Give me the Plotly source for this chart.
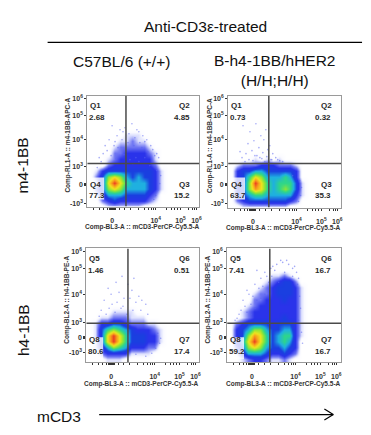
import plotly.graph_objects as go

W, H = 371, 435

# density levels (0 = empty, 10 = hottest), rows top to bottom
Z_TL = [
 [0]*19, [0]*19, [0]*19, [0]*19, [0]*19, [0]*19,
 [0,0,0,0,0,0,1,1,1,0,0,0,0,0,0,0,0,0,0],
 [0,0,0,0,0,1,1,2,1,1,0,0,0,0,0,0,0,0,0],
 [0,0,0,0,1,2,2,2,2,2,1,0,0,0,0,0,0,0,0],
 [0,0,0,0,2,2,3,3,3,3,2,1,0,0,0,0,0,0,0],
 [0,0,0,1,2,3,3,3,3,3,3,1,0,0,0,0,0,0,0],
 [0,0,0,2,3,3,3,3,3,3,3,2,0,0,0,0,0,0,0],
 [0,1,3,4,4,4,4,4,4,4,4,3,1,0,0,0,0,0,0],
 [0,2,4,7,8,7,5,4,5,4,4,3,1,0,0,0,0,0,0],
 [0,1,4,8,10,8,6,5,5,5,4,3,1,0,0,0,0,0,0],
 [0,2,4,7,8,7,5,5,5,5,4,3,1,0,0,0,0,0,0],
 [0,1,3,5,5,5,4,4,4,4,3,2,0,0,0,0,0,0,0],
 [0,0,2,3,4,3,3,3,3,3,2,1,0,0,0,0,0,0,0],
 [0,0,0,1,1,1,1,1,1,0,0,0,0,0,0,0,0,0,0],
]
Z_TR = [
 [0]*19, [0]*19, [0]*19, [0]*19, [0]*19, [0]*19, [0]*19, [0]*19, [0]*19, [0]*19,
 [0,0,0,0,1,0,1,0,1,0,0,0,0,0,0,0,0,0,0],
 [0,1,2,2,2,3,3,3,2,2,2,1,0,0,0,0,0,0,0],
 [0,3,4,4,5,5,4,4,4,4,4,3,0,0,0,0,0,0,0],
 [0,3,4,6,8,7,5,5,5,6,5,3,0,0,0,0,0,0,0],
 [0,3,4,7,10,8,6,5,6,6,6,4,1,0,0,0,0,0,0],
 [0,3,4,7,9,8,6,5,6,7,6,4,1,0,0,0,0,0,0],
 [0,3,4,5,6,6,5,5,5,5,5,3,1,0,0,0,0,0,0],
 [0,2,3,4,4,4,4,4,4,4,3,2,0,0,0,0,0,0,0],
 [0,0,1,1,1,1,1,1,1,1,0,0,0,0,0,0,0,0,0],
]
Z_BL = [
 [0]*19, [0]*19, [0]*19, [0]*19, [0]*19, [0]*19, [0]*19, [0]*19, [0]*19, [0]*19,
 [0,0,0,0,1,1,1,1,0,0,0,0,0,0,0,0,0,0,0],
 [0,0,1,1,2,2,2,1,1,1,0,0,0,0,0,0,0,0,0],
 [0,1,3,3,4,4,3,2,2,2,1,1,0,0,0,0,0,0,0],
 [0,1,4,6,7,6,5,4,3,3,3,2,1,0,0,0,0,0,0],
 [0,1,4,8,10,8,6,4,4,4,3,3,1,0,0,0,0,0,0],
 [0,1,4,8,10,8,6,4,4,4,3,3,1,0,0,0,0,0,0],
 [0,1,3,5,7,6,5,3,3,3,2,2,0,0,0,0,0,0,0],
 [0,0,2,3,3,3,3,1,1,1,1,0,0,0,0,0,0,0,0],
 [0,0,0,1,1,1,0,0,0,0,0,0,0,0,0,0,0,0,0],
]
Z_BR = [
 [0]*19, [0]*19, [0]*19, [0]*19,
 [0,0,0,0,0,0,0,1,1,2,1,0,0,0,0,0,0,0,0],
 [0,0,0,0,0,0,1,2,3,4,4,2,0,0,0,0,0,0,0],
 [0,0,0,0,0,1,2,3,4,4,4,3,1,0,0,0,0,0,0],
 [0,0,0,0,1,2,2,3,4,4,4,3,1,0,0,0,0,0,0],
 [0,0,0,0,2,2,3,3,3,4,3,3,1,0,0,0,0,0,0],
 [0,0,0,1,2,3,3,3,3,3,3,3,1,0,0,0,0,0,0],
 [0,0,1,2,3,3,3,3,3,3,3,3,1,0,0,0,0,0,0],
 [0,0,1,2,3,3,3,3,3,4,3,3,1,0,0,0,0,0,0],
 [0,2,3,4,4,4,4,3,4,4,4,3,1,0,0,0,0,0,0],
 [0,3,4,5,7,7,5,4,4,5,5,3,1,0,0,0,0,0,0],
 [0,3,4,7,9,8,6,4,5,6,6,3,1,0,0,0,0,0,0],
 [0,3,5,8,10,8,6,4,5,6,5,3,0,0,0,0,0,0,0],
 [0,2,4,7,8,7,5,4,4,5,4,3,0,0,0,0,0,0,0],
 [0,1,3,5,5,5,4,3,3,4,3,2,0,0,0,0,0,0,0],
 [0,0,1,2,3,3,2,1,1,2,1,0,0,0,0,0,0,0,0],
]
BIN_CENTRES = [3, 9, 15, 21, 27, 33, 39, 45, 51, 57, 63, 69, 75, 81, 87, 93, 99, 105, 111]

# scattered stray events
STRAY_X_TL = [25,33,38,45,52,30,42,48,56,60,22,28,36,50,58,64,18,20,66,70,16,24,68,72,63,70,74,12,14,10,35,41,47,53,31,27,39,44,55,61,33,49,43,37,29,58,52,46,73,71,69,67]
STRAY_Y_TL = [30,34,32,28,36,40,38,42,40,44,44,46,36,34,46,50,50,55,54,58,58,60,60,62,70,75,80,62,66,72,44,47,50,47,52,50,55,54,52,56,60,62,64,59,63,62,66,68,88,95,100,104]
STRAY_X_TR = [15,22,28,33,38,20,26,31,36,42,12,18,24,29,35,40,45,14,21,27,34,39,44,48,52,17,25,32,37,43,50,55,65,72,74,73,71]
STRAY_Y_TR = [30,36,28,40,34,48,45,52,44,50,56,58,55,60,57,54,58,62,64,60,63,61,64,62,65,66,65,62,66,64,64,66,80,85,92,100,106]
STRAY_X_BL = [22,30,36,42,48,25,33,38,46,53,18,26,31,37,44,50,56,60,15,23,29,35,41,47,55,62,13,20,72,75,74,70,66,60,50]
STRAY_Y_BL = [40,34,28,36,30,46,44,50,42,48,52,56,54,58,50,54,52,56,62,60,64,60,66,62,62,66,68,66,85,90,95,100,105,108,106]
STRAY_X_BR = [20,28,34,40,30,38,44,46,50,56,62,68,70,72,16,22,26,32,36,42,18,24,30,14,20,12,10,8,48,54,60,66,71,73,74,72,75,76,45,58,66,38,34,28,24,52,42]
STRAY_Y_BR = [42,36,30,28,22,24,20,18,16,14,16,18,24,30,52,46,48,40,38,34,58,56,52,62,64,66,70,72,22,12,12,20,36,48,60,72,84,95,28,24,28,46,50,60,66,34,42]
STRAYS = [(STRAY_X_TL, STRAY_Y_TL), (STRAY_X_TR, STRAY_Y_TR), (STRAY_X_BL, STRAY_Y_BL), (STRAY_X_BR, STRAY_Y_BR)]

GATE_LABELS = [["Q1", "Q2", "Q3", "Q4"], ["Q1", "Q2", "Q3", "Q4"], ["Q5", "Q6", "Q7", "Q8"], ["Q5", "Q6", "Q7", "Q8"]]
GATE_VALUES = [["2.68", "4.85", "15.2", "77.3"], ["0.73", "0.32", "35.3", "63.7"],
               ["1.46", "0.51", "17.4", "80.6"], ["7.41", "16.7", "16.7", "59.2"]]
GROUPS = ["C57BL/6 (+/+)", "B-h4-1BB/hHER2<br>(H/H;H/H)"]
ROWS = ["m4-1BB", "h4-1BB"]
X_TITLE = "Comp-BL3-A :: mCD3-PerCP-Cy5.5-A"
Y_TITLES = ["Comp-RL1-A :: m4-1BB-APC-A", "Comp-BL2-A :: h4-1BB-PE-A"]

XT_LABELS = ["0", "10<sup>4</sup>", "10<sup>5</sup>", "10<sup>6</sup>"]
YT_LABELS = ["10<sup>6</sup>", "10<sup>5</sup>", "10<sup>4</sup>", "10<sup>3</sup>", "0", "-10<sup>3</sup>"]

COLORS = [[0.0, "#ffffff"], [0.05, "#fbfbff"], [0.1, "#dfe2fe"], [0.2, "#6f76f3"], [0.3, "#2a33ea"],
          [0.4, "#1a3fe0"], [0.5, "#1fb0e0"], [0.6, "#2fd68a"], [0.7, "#8ee636"],
          [0.8, "#f0e41e"], [0.9, "#f89a1c"], [1.0, "#ea3c22"]]

# panel boxes in pixels: left, right, top, bottom, gate x, gate y
PANELS = [(88, 201, 95, 206, 39, 68), (230, 344, 95, 207, 41, 68),
          (87, 201, 248, 362, 42, 75), (229, 344, 248, 362, 43, 75)]
YTICKS = [[3, 20, 44, 71, 89, 108], [3, 20, 44, 71, 89, 108], [3, 20, 46, 74, 89, 104], [3, 20, 46, 74, 89, 104]]
XTICKS = [25, 69, 94, 110]
X_MINOR = [6, 12, 16, 20, 22, 23, 24, 26, 27, 28, 32, 38, 44, 52, 58, 62, 65, 67, 80, 85, 88, 91, 102, 106, 108]
Y_MINOR_ZERO = [1, -1]

def fx(p):
    return p / W
def fy(p):
    return 1 - p / H

Zs = [Z_TL, Z_TR, Z_BL, Z_BR]
fig = go.Figure()
layout = dict(width=W, height=H, autosize=False, margin=dict(l=0, r=0, t=0, b=0),
              paper_bgcolor="white", plot_bgcolor="white", showlegend=False,
              font=dict(family="Liberation Sans", color="#222"))
shapes, ann = [], []
TXT = "Liberation Sans"

def note(x, y, text, size=15.5, angle=0, color="#111", **kw):
    ann.append(dict(x=fx(x), y=fy(y), xref="paper", yref="paper", text=text, showarrow=False, textangle=angle,
                    xanchor="center", yanchor="middle", font=dict(family=TXT, size=size, color=color), **kw))

for i, (l, r, t, b, gx, gy) in enumerate(PANELS):
    n = "" if i == 0 else str(i + 1)
    fig.add_trace(go.Heatmap(z=Zs[i], x=BIN_CENTRES, y=BIN_CENTRES, xaxis="x" + n, yaxis="y" + n,
                             colorscale=COLORS, zmin=0, zmax=10, zsmooth="best", showscale=False, hoverinfo="skip"))
    fig.add_trace(go.Scatter(x=STRAYS[i][0], y=STRAYS[i][1], xaxis="x" + n, yaxis="y" + n, mode="markers",
                             marker=dict(size=1.6, color="rgba(90,100,240,0.55)", line=dict(width=0)), hoverinfo="skip"))
    zero = YTICKS[i][4]
    common = dict(showgrid=False, zeroline=False, showline=True, mirror=True, linecolor="#9a9a9a", linewidth=1,
                  ticks="outside", ticklen=2, tickwidth=1, tickcolor="#333", tickangle=0)
    layout["xaxis" + n] = dict(common, domain=[fx(l), fx(r)], range=[0, r - l], anchor="y" + n, tickmode="array",
                               tickvals=XTICKS, ticktext=["<b>%s</b>" % s for s in XT_LABELS],
                               tickfont=dict(family=TXT, size=7, color="#333"), ticklabelstandoff=5,
                               minor=dict(tickmode="array", tickvals=X_MINOR, ticks="outside", ticklen=2, tickcolor="#333"))
    layout["yaxis" + n] = dict(common, domain=[fy(b), fy(t)], range=[b - t, 0], anchor="x" + n, tickmode="array",
                               tickvals=YTICKS[i], ticktext=["<b>%s</b>" % s for s in YT_LABELS],
                               tickfont=dict(family=TXT, size=7, color="#333"),
                               minor=dict(tickmode="array", tickvals=[zero + d for d in Y_MINOR_ZERO], ticks="outside", ticklen=2, tickcolor="#333"))
    xr, yr = "x" + n, "y" + n
    shapes.append(dict(type="line", xref=xr, yref=yr, x0=gx, x1=gx, y0=0, y1=b - t, line=dict(color="#4a4a4a", width=1.5)))
    shapes.append(dict(type="line", xref=xr, yref=yr, x0=0, x1=r - l, y0=gy, y1=gy, line=dict(color="#4a4a4a", width=1.5)))
    # pale box behind the lower left gate label
    shapes.append(dict(type="rect", xref=xr, yref=yr, x0=1, x1=17, y0=gy + 14, y1=gy + 36,
                       fillcolor="rgba(255,255,255,0.8)", line=dict(width=0)))
    row_y = (t + 10, t + 22, gy + t + 21, gy + t + 32) if i < 2 else (t + 10, t + 22, gy + t + 16, gy + t + 28)
    lx = l + 8; vx = l + 10; rx = r - 15; rvx = r - 18
    lab, val = GATE_LABELS[i], GATE_VALUES[i]
    for k, (a, c) in enumerate([(lx, 0), (rx, 1), (rx, 2), (lx, 3)]):
        yl = row_y[0] if k < 2 else row_y[2]
        yv = row_y[1] if k < 2 else row_y[3]
        note(a, yl, "<b>%s</b>" % lab[c], size=8, color="#2a2a2a")
        note(vx if k in (0, 3) else rvx, yv, "<b>%s</b>" % val[c], size=8, color="#2a2a2a")
    note((l + r) / 2 - 1, b + (21 if i < 2 else 22), "<b>%s</b>" % X_TITLE, size=6.5, color="#333")
    note(l - 19, (t + b) / 2 - 6, "<b>%s</b>" % Y_TITLES[i // 2], size=6.5, angle=-90, color="#333")

note(207, 26, "Anti-CD3ε-treated")
note(122, 61, GROUPS[0])
note(277, 70, GROUPS[1])
note(23, 165, ROWS[0], angle=-90)
note(23, 330, ROWS[1], angle=-90)
note(59, 416, "mCD3")

def seg(x0, y0, x1, y1, w=1.2):
    shapes.append(dict(type="line", xref="paper", yref="paper", x0=fx(x0), x1=fx(x1), y0=fy(y0), y1=fy(y1),
                       line=dict(color="black", width=w)))
seg(48, 41.5, 365, 41.5)
seg(100, 414.5, 336, 414.5)
seg(327, 409, 336, 414.5)
seg(327, 420, 336, 414.5)

layout["shapes"] = shapes
layout["annotations"] = ann
fig.update_layout(**layout)
fig.write_html("out.html", config={"displayModeBar": False},
               post_script="document.body.style.margin='0';document.body.style.overflow='hidden';")
